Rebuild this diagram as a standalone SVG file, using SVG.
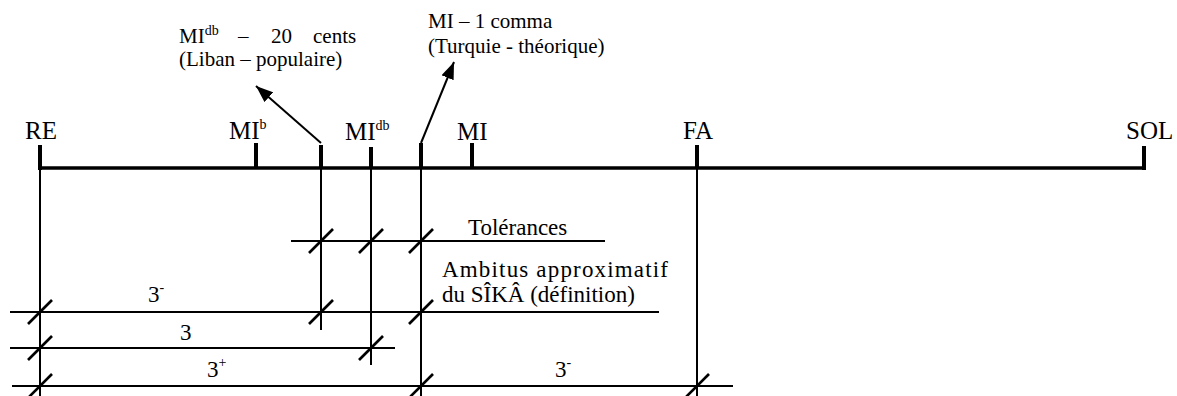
<svg xmlns="http://www.w3.org/2000/svg" width="1177" height="396" viewBox="0 0 1177 396">
<style>
text{font-family:"Liberation Serif","Times New Roman",serif;fill:#000}
.lbl{font-size:25px}
.top{font-size:21px}
.txt{font-size:23px}
.sup{font-size:14px}
.axis{stroke:#000;stroke-width:3.5;fill:none}
.tick{stroke:#000;stroke-width:4}
.thin{stroke:#000;stroke-width:2;fill:none}
.slash{stroke:#000;stroke-width:2.6}
</style>
<defs>
<marker id="ah2" viewBox="0 0 17 13" refX="17" refY="6.5" markerWidth="17" markerHeight="13" orient="auto" markerUnits="userSpaceOnUse">
<path d="M0,0 L17,6.5 L0,13 Z" fill="#000"/>
</marker>
<path id="sl" d="M-12,12 L12,-12" class="slash"/>
</defs>

<g id="axis">
<path class="axis" d="M40,168 H1144"/>
<line class="tick" x1="40" y1="145" x2="40" y2="170"/>
<line class="tick" x1="256" y1="143" x2="256" y2="168"/>
<line class="tick" x1="321" y1="145" x2="321" y2="168"/>
<line class="tick" x1="371" y1="147" x2="371" y2="168"/>
<line class="tick" x1="421" y1="143" x2="421" y2="168"/>
<line class="tick" x1="472" y1="143" x2="472" y2="168"/>
<line class="tick" x1="697" y1="145" x2="697" y2="168"/>
<line class="tick" x1="1144" y1="146" x2="1144" y2="170"/>
</g>

<g id="labels">
<text class="lbl" x="25" y="139">RE</text>
<text class="lbl" x="229" y="139">MI<tspan class="sup" dy="-10">b</tspan></text>
<text class="lbl" x="345" y="140">MI<tspan class="sup" dy="-10">db</tspan></text>
<text class="lbl" x="457" y="140">MI</text>
<text class="lbl" x="683" y="139">FA</text>
<text class="lbl" x="1126" y="139">SOL</text>
</g>

<g id="note-liban">
<text class="top" x="179" y="43">MI<tspan class="sup" dy="-8">db</tspan></text>
<text class="top" x="238" y="43">–</text>
<text class="top" x="271" y="43">20</text>
<text class="top" x="313" y="43">cents</text>
<text class="top" x="179" y="66">(Liban – populaire)</text>
</g>

<g id="note-turquie">
<text class="top" x="428" y="28">MI – 1 comma</text>
<text class="top" x="428" y="53">(Turquie - théorique)</text>
</g>

<g id="connectors">
<line class="thin" x1="321" y1="143" x2="256" y2="86" marker-end="url(#ah2)"/>
<line class="thin" x1="421" y1="143" x2="454" y2="62" marker-end="url(#ah2)"/>
<line class="thin" x1="40" y1="168" x2="40" y2="396"/>
<line class="thin" x1="321" y1="168" x2="321" y2="330"/>
<line class="thin" x1="371" y1="168" x2="371" y2="365"/>
<line class="thin" x1="421" y1="168" x2="421" y2="396"/>
<line class="thin" x1="697" y1="168" x2="697" y2="396"/>
</g>

<g id="tolerances">
<line class="thin" x1="291" y1="241" x2="605" y2="241"/>
<use href="#sl" x="321" y="241"/>
<use href="#sl" x="371" y="241"/>
<use href="#sl" x="421" y="241"/>
<text class="txt" x="468" y="235">Tolérances</text>
</g>

<g id="ambitus">
<line class="thin" x1="10" y1="312" x2="659" y2="312"/>
<use href="#sl" x="40" y="312"/>
<use href="#sl" x="321" y="312"/>
<use href="#sl" x="421" y="312"/>
<text class="txt" x="442" y="277" textLength="226" lengthAdjust="spacing">Ambitus approximatif</text>
<text class="txt" x="442" y="302">du SÎKÂ (définition)</text>
<text class="txt" x="148" y="302">3<tspan class="sup" dy="-10">-</tspan></text>
</g>

<g id="interval-3">
<line class="thin" x1="10" y1="348" x2="395" y2="348"/>
<use href="#sl" x="40" y="348"/>
<use href="#sl" x="371" y="348"/>
<text class="txt" x="180" y="340">3</text>
</g>

<g id="interval-bottom">
<line class="thin" x1="12" y1="386" x2="733" y2="386"/>
<use href="#sl" x="40" y="386"/>
<use href="#sl" x="421" y="386"/>
<use href="#sl" x="697" y="386"/>
<text class="txt" x="207" y="377">3<tspan class="sup" dy="-10">+</tspan></text>
<text class="txt" x="555" y="377">3<tspan class="sup" dy="-10">-</tspan></text>
</g>
</svg>
